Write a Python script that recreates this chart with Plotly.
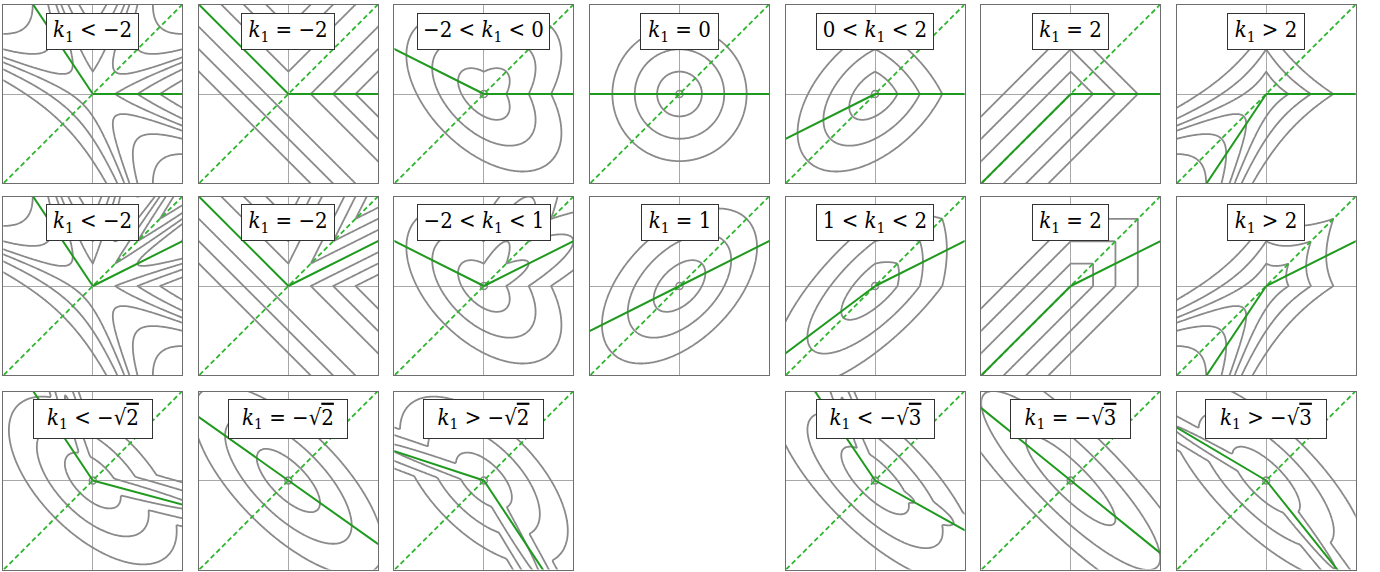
import numpy as np
import plotly.graph_objects as go

# ---------------- grid geometry (pixels) ----------------
FIG_W, FIG_H = 1380, 572
COL_LEFT = [3.3, 198.9, 394.4, 590.0, 785.6, 981.2, 1176.7]
ROW_TOP = [5.0, 197.0, 391.5]
PANEL_W, PANEL_H = 179.0, 178.0
HALF = 4.0  # half-width of a panel in data units

SERIF = "DejaVu Serif Condensed, DejaVu Serif, serif"

# ---------------- panel data ----------------
K1 = "<i>k</i><sub>1</sub>"
R2 = "√<span style='text-decoration:overline'>2</span>"
R3 = "√<span style='text-decoration:overline'>3</span>"
LABELS = [
    [f"{K1} &lt; −2", f"{K1} = −2", f"−2 &lt; {K1} &lt; 0", f"{K1} = 0",
     f"0 &lt; {K1} &lt; 2", f"{K1} = 2", f"{K1} &gt; 2"],
    [f"{K1} &lt; −2", f"{K1} = −2", f"−2 &lt; {K1} &lt; 1", f"{K1} = 1",
     f"1 &lt; {K1} &lt; 2", f"{K1} = 2", f"{K1} &gt; 2"],
    [f"{K1} &lt; −{R2}", f"{K1} = −{R2}", f"{K1} &gt; −{R2}", None,
     f"{K1} &lt; −{R3}", f"{K1} = −{R3}", f"{K1} &gt; −{R3}"],
]
LABEL_W = [
    [93, 94, 133, 79, 118, 77, 78],
    [93, 94, 134, 78, 118, 77, 78],
    [120, 120, 121, 0, 119, 121, 122],
]

# parameter used for the level functions of rows 1 and 2
K_VALUES = [
    [-3.0, -2.0, -1.0, 0.0, 1.0, 2.0, 3.0],
    [-3.0, -2.0, -1.0, 1.0, 1.5, 2.0, 3.0],
]

# row 3: cross-term of the base ellipse and the (angle, length, width) of each tongue
ROW3_CROSS = [1.2, 1.414, 1.2, None, 1.5, 1.732, 1.5]
ROW3_TONGUES = [
    [(-15, 5.0, 0.33), (108, 4.0, 0.22)],
    [],
    [(160, 5.0, 0.30), (-60, 5.0, 0.30)],
    None,
    [(-29, 2.0, 0.30), (112, 4.0, 0.22)],
    [],
    [(150, 5.0, 0.28), (-52, 5.0, 0.30)],
]

# panels that show the tiny loop around the origin
ORIGIN_LOOP = [
    [False, False, True, True, True, False, False],
    [False, False, True, True, True, False, False],
    [True, True, True, False, True, True, True],
]

# directions (degrees) of the solid green rays
RAYS = [
    [[0, 123.7], [0, 135], [0, 153.4], [0, 180], [0, 206.6], [0, 225], [0, 236.3]],
    [[26.6, 123.7], [26.6, 135], [26.6, 153.4], [26.6, 206.6], [26.6, 216.9], [26.6, 225], [26.6, 236.3]],
    [[123.7, -15.0], [144.7, -35.3], [161.8, -56.5], [], [124.0, -29.0], [141.0, -39.0], [149.4, -51.4]],
]

LEVELS = [1, 2, 3]

GRAY = "#8a8a8a"
GREEN = "#1f9a1f"
GREEN_DASH = "#2fb52f"


def level_function(row, col, X, Y):
    if row < 2:
        k = K_VALUES[row][col]
        q1 = (X > 0) & (Y > 0)
        outside = X**2 + Y**2 - k * X * Y
        if row == 0:
            inside = X**2 + Y**2 + k * X * Y
        else:
            below = X**2 + (2 - k) * (Y**2 - X * Y)
            above = Y**2 + (2 - k) * (X**2 - X * Y)
            inside = np.where(Y <= X, below, above)
        Q = np.where(q1, inside, outside)
        return np.sign(Q) * np.sqrt(np.abs(Q))
    # row 3: ellipse merged with one-sided tongues
    F = np.sqrt(X**2 + Y**2 + ROW3_CROSS[col] * X * Y)
    for ang, length, width in ROW3_TONGUES[col]:
        t = np.deg2rad(ang)
        u = X * np.cos(t) + Y * np.sin(t)
        v = -X * np.sin(t) + Y * np.cos(t)
        G = np.sqrt((u / length) ** 2 + (v / width) ** 2)
        G = np.where(u < 0, np.inf, G)
        F = np.minimum(F, G)
    return F


N = 161
xs = np.linspace(-HALF * 1.03, HALF * 1.03, N)
ys = np.linspace(-HALF * 1.03, HALF * 1.03, N)
X, Y = np.meshgrid(xs, ys)

fig = go.Figure()
layout = dict(width=FIG_W, height=FIG_H, margin=dict(l=0, r=0, t=0, b=0),
              paper_bgcolor="white", plot_bgcolor="white", showlegend=False,
              font=dict(family=SERIF))
annotations = []

idx = 0
for r in range(3):
    for c in range(7):
        if LABELS[r][c] is None:
            continue
        idx += 1
        xa = "x" if idx == 1 else f"x{idx}"
        ya = "y" if idx == 1 else f"y{idx}"
        left = COL_LEFT[c]
        top = ROW_TOP[r]
        ax_x = dict(domain=[left / FIG_W, (left + PANEL_W) / FIG_W],
                    range=[-HALF, HALF], showgrid=False, showticklabels=False, ticks="",
                    zeroline=True, zerolinecolor="#a8a8a8", zerolinewidth=1.3,
                    showline=True, mirror=True, linecolor="#6e6e6e", linewidth=1.3,
                    anchor=ya)
        ax_y = dict(domain=[1 - (top + PANEL_H) / FIG_H, 1 - top / FIG_H],
                    range=[-HALF * PANEL_H / PANEL_W, HALF * PANEL_H / PANEL_W],
                    showgrid=False, showticklabels=False, ticks="",
                    zeroline=True, zerolinecolor="#a8a8a8", zerolinewidth=1.3,
                    showline=True, mirror=True, linecolor="#6e6e6e", linewidth=1.3,
                    anchor=xa)
        layout["xaxis" if idx == 1 else f"xaxis{idx}"] = ax_x
        layout["yaxis" if idx == 1 else f"yaxis{idx}"] = ax_y

        Z = np.round(level_function(r, c, X, Y), 4)
        Z = np.where(np.isfinite(Z), Z, 99.0)
        bands = [(LEVELS[0], LEVELS[-1])]
        if Z.min() < 0:
            bands.append((-LEVELS[-1], -LEVELS[0]))
        for lo, hi in bands:
            fig.add_trace(go.Contour(
                x=xs, y=ys, z=Z, xaxis=xa, yaxis=ya,
                contours=dict(coloring="none", start=lo, end=hi, size=1),
                line=dict(color=GRAY, width=1.8, smoothing=0.6),
                showscale=False, hoverinfo="skip"))

        if ORIGIN_LOOP[r][c]:
            fig.add_trace(go.Scatter(x=[0], y=[0], mode="markers", xaxis=xa, yaxis=ya,
                                     marker=dict(symbol="circle-open", size=7, color=GRAY,
                                                 line=dict(color=GRAY, width=1.5)),
                                     hoverinfo="skip"))
        # dashed diagonal
        fig.add_trace(go.Scatter(x=[-6, 6], y=[-6, 6], mode="lines", xaxis=xa, yaxis=ya,
                                 line=dict(color=GREEN_DASH, width=1.8, dash="5px,3px"),
                                 hoverinfo="skip"))
        # solid rays
        for ang in RAYS[r][c]:
            t = np.deg2rad(ang)
            fig.add_trace(go.Scatter(x=[0, 8 * np.cos(t)], y=[0, 8 * np.sin(t)], mode="lines",
                                     xaxis=xa, yaxis=ya, line=dict(color=GREEN, width=2),
                                     hoverinfo="skip"))

        bh = 40 if r == 2 else 37
        annotations.append(dict(
            text=LABELS[r][c], showarrow=False,
            xref=f"{xa} domain", yref=f"{ya} domain",
            x=0.5, y=1 - (7.5 + bh / 2) / PANEL_H, xanchor="center", yanchor="middle",
            font=dict(family=SERIF, size=22, color="black"),
            bgcolor="white", bordercolor="#333333", borderwidth=1, borderpad=0,
            width=LABEL_W[r][c] - 2, height=bh - 2))

layout["annotations"] = annotations
fig.update_layout(**layout)
fig.write_html("out.html")
